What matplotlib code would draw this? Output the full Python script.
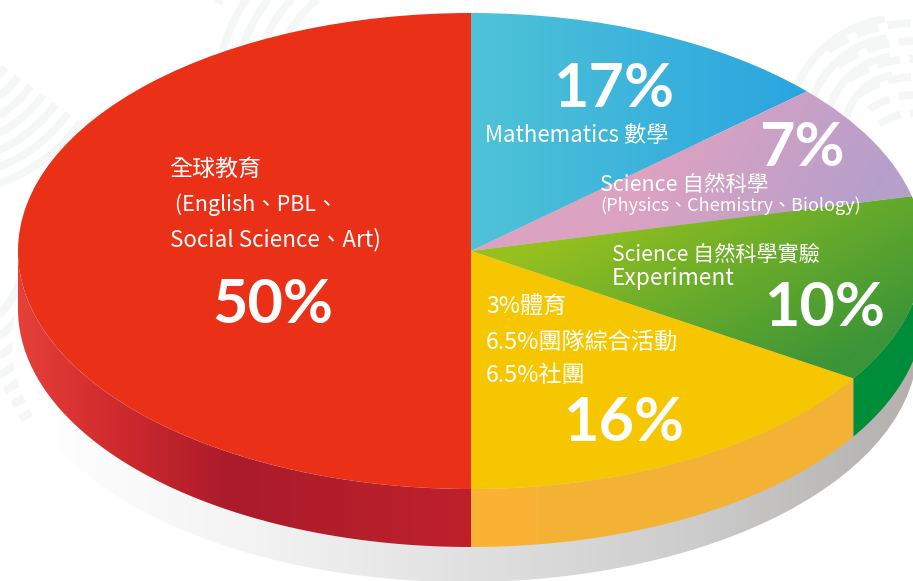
import numpy as np
import matplotlib
matplotlib.use("Agg")
import matplotlib.pyplot as plt
from matplotlib.patches import Polygon, Ellipse
from matplotlib.transforms import Affine2D
from matplotlib.colors import to_rgb

# ---- data ----
slice_names = ["Mathematics", "Science", "Science Experiment", "Activities", "Global"]
percent_labels = ["17%", "7%", "10%", "16%", "50%"]
# slice sizes as drawn in the picture (the artwork's wedges differ from its printed percentages)
drawn_shares = [13.3, 8.0, 12.7, 16.0, 50.0]
global_lines = ["全球教育", " (English、PBL、", "Social Science、Art)"]
math_line = "Mathematics 數學"
science_lines = ["Science 自然科學", "(Physics、Chemistry、Biology)"]
experiment_lines = ["Science 自然科學實驗", "Experiment"]
activity_lines = ["3%體育", "6.5%團隊綜合活動", "6.5%社團"]

# ---- layout (pixels) ----
W, H = 913, 581
CX, CY, RX, RY, DEPTH = 471, 251, 453, 238, 58
FONT = ["Noto Sans CJK TC", "DejaVu Sans"]
BIGFONT = ["Lato", "Noto Sans", "DejaVu Sans"]

fig = plt.figure(figsize=(W / 100, H / 100), dpi=100, facecolor="white")
ax = fig.add_axes([0, 0, 1, 1])
wedges, _ = ax.pie(drawn_shares, startangle=90, counterclock=False, radius=1, center=(0, 0),
                   colors=["none"] * 5, wedgeprops=dict(linewidth=0))
ax.set_aspect("auto")
XL = ((0 - CX) / RX, (W - CX) / RX)
YL = ((CY - H) / RY, CY / RY)
ax.set_xlim(*XL)
ax.set_ylim(*YL)
ax.axis("off")
px = Affine2D().scale(1, -1).translate(0, H)

xx, yy = np.meshgrid(np.arange(W) + .5, np.arange(H) + .5)


def gradient(clip, stops, p0, p1, z):
    """Linear gradient along p0->p1 (pixels) clipped to a patch."""
    d = np.array(p1, float) - np.array(p0, float)
    t = ((xx - p0[0]) * d[0] + (yy - p0[1]) * d[1]) / (d @ d)
    pos = [s[0] for s in stops]
    cols = np.array([to_rgb(s[1]) for s in stops])
    img = np.dstack([np.interp(t, pos, cols[:, i]) for i in range(3)])
    im = ax.imshow(img, extent=(*XL, *YL), origin="upper", aspect="auto", zorder=z,
                   interpolation="nearest")
    im.set_clip_path(clip)
    ax.set_xlim(*XL)
    ax.set_ylim(*YL)
    return im


def wall(a0, a1):
    t = np.radians(np.linspace(a0, a1, 200))
    d = DEPTH / RY
    return Polygon(np.r_[np.c_[np.cos(t), np.sin(t)], np.c_[np.cos(t[::-1]), np.sin(t[::-1]) - d]],
                   closed=True, transform=ax.transData, fc="none", ec="none")


# ---- faint background swirl ----
BG = "#f5f7f6"


def ring(cx, cy, radii, a0, a1, dash=None):
    for r in radii:
        a = np.radians(np.linspace(a0, a1, 80))
        ln, = ax.plot(cx + r * np.cos(a), cy + r * np.sin(a), color=BG, lw=5.6, transform=px,
                      solid_capstyle="butt", zorder=0)
        if dash:
            ln.set_linestyle((0, dash))


ring(-60, 20, np.arange(81, 180, 15.5), 36, 88)
ring(-70, 250, np.arange(95, 200, 16), 0, 62)
ring(400, 100, np.arange(130, 190, 18), 195, 245)
ring(400, 100, [206], 208, 214)
ring(900, 130, np.arange(55, 125, 19), 190, 262)
ring(915, 175, np.arange(62, 160, 18), 235, 270, dash=(3, 1.2))

# ---- drop shadow ----
shadow = Ellipse((-6 / RX, -(58 + 35) / RY), 2, 2, fc="none", ec="none")
ax.add_patch(shadow)
gradient(shadow, [(0, "#ffffff"), (.25, "#f3f3f3"), (.5, "#e0e0e0"), (.75, "#cccccc"), (1, "#b3b0ad")],
         (40, 0), (913, 0), 1)

# ---- side walls ----
edges = 90 - 3.6 * np.cumsum([0] + drawn_shares)
exp_end = edges[3] % 360  # boundary experiment / activities

w = wall(180, 270); ax.add_patch(w)
gradient(w, [(0, "#e6403a"), (.22, "#cf2a2d"), (.47, "#ab1b2b"), (.6, "#af1d2b"), (1, "#bf202c")],
         (18, 0), (471, 0), 2)
w = wall(270, exp_end); ax.add_patch(w)
gradient(w, [(0, "#f9b233"), (.175, "#f9b233"), (.176, "#f4b234"), (1, "#f4b234")], (471, 0), (853, 0), 2)
w = wall(exp_end, 360); ax.add_patch(w)
gradient(w, [(0, "#008d3a"), (1, "#008d3a")], (853, 0), (913, 0), 2)

# ---- pie top ----
gradient(wedges[0], [(0, "#4fc3d7"), (1, "#2ba5e0")], (471, 0), (800, 0), 3)
gradient(wedges[1], [(0, "#dca2c2"), (1, "#b59fcb")], (680, 120), (860, 220), 3)
gradient(wedges[2], [(0, "#95c11f"), (1, "#3a9438")], (600, 210), (720, 430), 3)
gradient(wedges[3], [(0, "#f6c700"), (1, "#f6c700")], (471, 0), (853, 0), 3)
gradient(wedges[4], [(0, "#ea3118"), (1, "#ea3118")], (0, 0), (471, 0), 3)


# ---- text ----
def label(x, y, s, size=16.5):
    ax.text(x, y, s, transform=px, color="white", fontsize=size, family=FONT, ha="left",
            va="baseline", zorder=5, fontweight=300)


def big(x, y, s):
    ax.text(x, y, s, transform=px, color="white", fontsize=44, family=BIGFONT, ha="left",
            va="baseline", zorder=5, fontweight="bold")


for y, s, z in zip([176, 211, 246], global_lines, [16.6, 15.5, 16.2]):
    label(169.5, y, s, z)
label(485, 142, math_line, 16)
label(600, 191, science_lines[0], 15.5)
label(600, 211, science_lines[1], 13)
for y, s, z in zip([261, 285], experiment_lines, [15.2, 16.4]):
    label(612, y, s, z)
for y, s in zip([314, 349, 382], activity_lines):
    label(486, y, s, 16.7)

big(553, 107, percent_labels[0])
big(759, 166, percent_labels[1])
big(764, 326, percent_labels[2])
big(563, 441, percent_labels[3])
big(212, 323, percent_labels[4])

fig.savefig("out.png", dpi=100, facecolor="white")
